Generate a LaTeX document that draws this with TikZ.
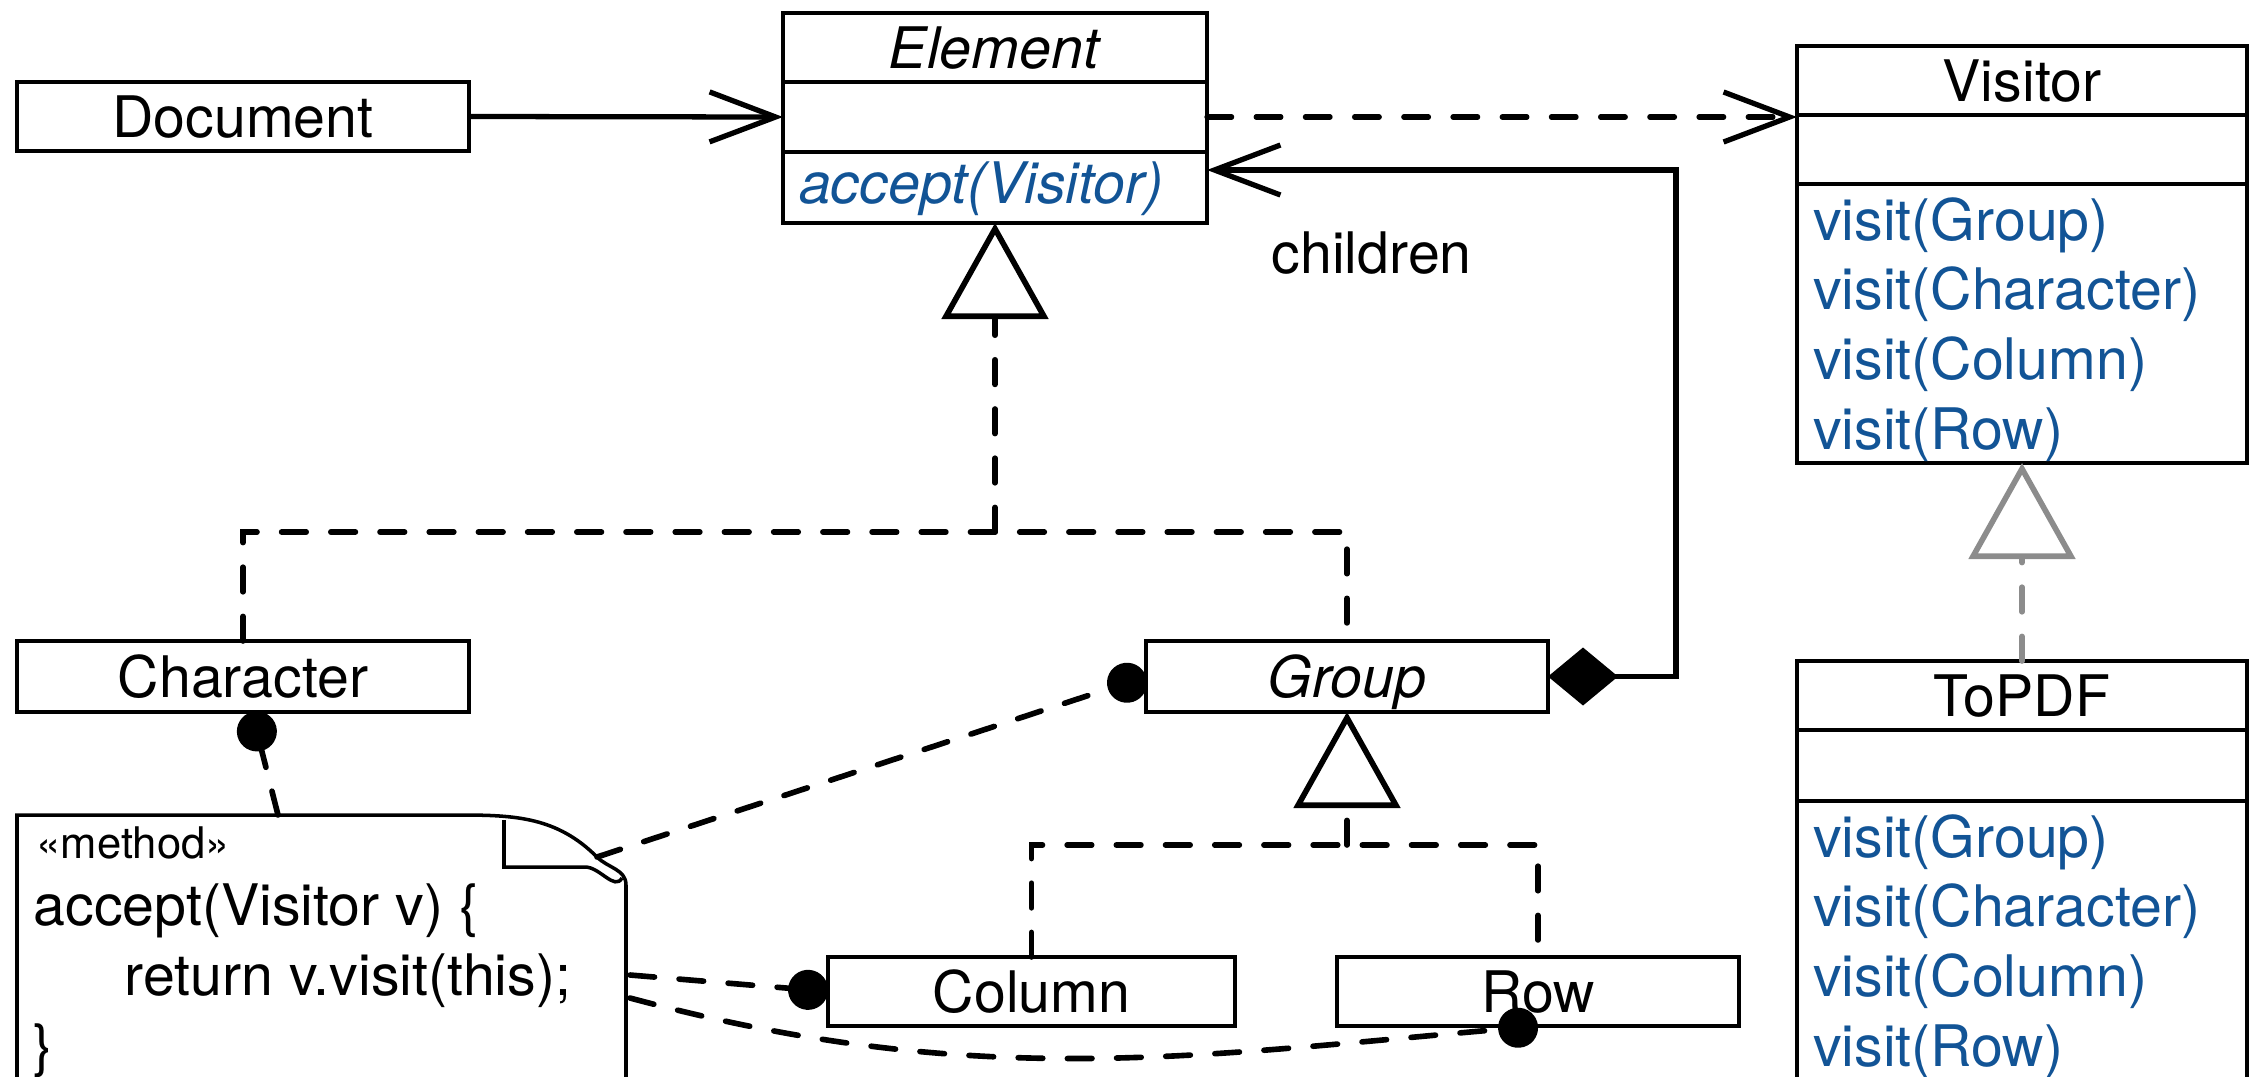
\documentclass[tikz,border=0pt]{standalone}
\usepackage{fontspec}
\setmainfont{TeX Gyre Heros}
\usepackage{tikz}
\usetikzlibrary{arrows.meta, positioning}
\definecolor{opblue}{RGB}{18,84,150}
\definecolor{realgray}{RGB}{140,140,140}

\begin{document}
\begin{tikzpicture}[
  font=\fontsize{16.3}{19.9}\selectfont,
  classbox/.style={draw, line width=1pt, inner sep=0pt, outer sep=0pt, minimum height=0.69cm, text height=0.41cm, text depth=0pt},
  opsbox/.style={draw, line width=1pt, text=opblue, align=left, text width=#1, inner xsep=0.16cm, inner ysep=0pt, outer sep=0pt},
  realize/.style={line width=1.6pt, dash pattern=on 7pt off 7pt, line cap=round},
  tri/.style={-{Triangle[open, length=0.96cm, width=1.06cm]}},
  assoc/.style={line width=1.5pt, -{Straight Barb[length=0.66cm, width=0.5cm]}},
  attach/.style={realize, -{Circle[length=0.4cm]}},
  codeline/.style={anchor=base west, inner sep=0pt}
]
  \useasboundingbox (0,0) rectangle (22.54,-10.76);
  \clip (0,0) rectangle (22.54,-10.76);

  \node[classbox, minimum width=4.52cm] (document) at (2.43,-1.165) {Document};

  \node[classbox, minimum width=4.24cm] (eltitle) at (9.95,-0.475) {\textit{Element}};
  \node[classbox, minimum width=4.24cm, minimum height=0.70cm, below=0pt of eltitle] (elattr) {};
  \node[opsbox=3.92cm, minimum height=0.71cm, below=0pt of elattr] (elops) {\rule{0pt}{0.45cm}\textit{accept(Visitor)}};

  \node[classbox, minimum width=4.50cm] (vistitle) at (20.22,-0.805) {Visitor};
  \node[classbox, minimum width=4.50cm, below=0pt of vistitle] (visattr) {};
  \node[opsbox=4.18cm, minimum height=2.79cm, below=0pt of visattr] (visops) {\rule{0pt}{0.55cm}visit(Group)\\visit(Character)\\visit(Column)\\visit(Row)};

  \node[classbox, minimum width=4.50cm] (pdftitle) at (20.22,-6.955) {ToPDF};
  \node[classbox, minimum width=4.50cm, minimum height=0.71cm, below=0pt of pdftitle] (pdfattr) {};
  \node[opsbox=4.18cm, minimum height=2.79cm, below=0pt of pdfattr] (pdfops) {\rule{0pt}{0.55cm}visit(Group)\\visit(Character)\\visit(Column)\\visit(Row)};

  \node[classbox, minimum width=4.52cm, minimum height=0.71cm] (character) at (2.43,-6.765) {Character};
  \node[classbox, minimum width=4.02cm, minimum height=0.71cm] (group) at (13.47,-6.765) {\textit{Group}};
  \node[classbox, minimum width=4.07cm] (column) at (10.315,-9.915) {Column};
  \node[classbox, minimum width=4.02cm] (row) at (15.38,-9.915) {Row};

  \coordinate (eljoin) at (9.95,-5.32);
  \coordinate (grjoin) at (13.47,-8.45);
  \coordinate (kids) at (16.76,-1.70);

  \draw[assoc] (document.east) -- (elattr.west);
  \draw[realize, assoc] (elattr.east) -- (elattr.east -| visattr.west);
  \draw[assoc, {Diamond[length=0.7cm, width=0.58cm]}-{Straight Barb[length=0.66cm, width=0.5cm]}] (group.east) -| (kids) -- (kids -| elops.east);
  \node[codeline] (kidslabel) at (12.71,-2.73) {children};

  \draw[realize] (character.north) |- (eljoin) -| (group.north);
  \draw[realize, tri] (eljoin) -- (elops.south);
  \draw[realize] (column.north) |- (grjoin) -| (row.north);
  \draw[realize, tri] (grjoin) -- (group.south);
  \draw[realize, tri, realgray] (pdftitle.north) -- (visops.south);

  \draw[line width=1pt] (0.17,-11) |- (4.60,-8.15) to[out=0, in=135] (5.97,-8.57) to[out=-45, in=90] (6.26,-8.85) -- (6.26,-11);
  \draw[line width=1pt] (5.04,-8.20) -- (5.04,-8.67) -- (5.85,-8.67) to[out=0, in=-120] (6.22,-8.78);
  \coordinate (notetop) at (2.78,-8.15);
  \coordinate (notefold) at (5.97,-8.57);
  \coordinate (noteret) at (6.30,-9.75);
  \coordinate (notecurve) at (6.30,-9.98);

  \node[codeline, font=\fontsize{12.4}{14}\selectfont] (stereo) at (0.36,-8.58) {«method»};
  \node[codeline] (sig) at (0.33,-9.25) {accept(Visitor v) \{};
  \node[codeline] (ret) at (1.24,-9.95) {return v.visit(this);};
  \node[codeline] (close) at (0.33,-10.65) {\}};

  \draw[attach] (notetop) -- (character);
  \draw[attach] (notefold) -- (group.west);
  \draw[attach] (noteret) -- (column.west);
  \draw[attach] (notecurve) to[out=-15, in=185] (row.south);
\end{tikzpicture}
\end{document}
